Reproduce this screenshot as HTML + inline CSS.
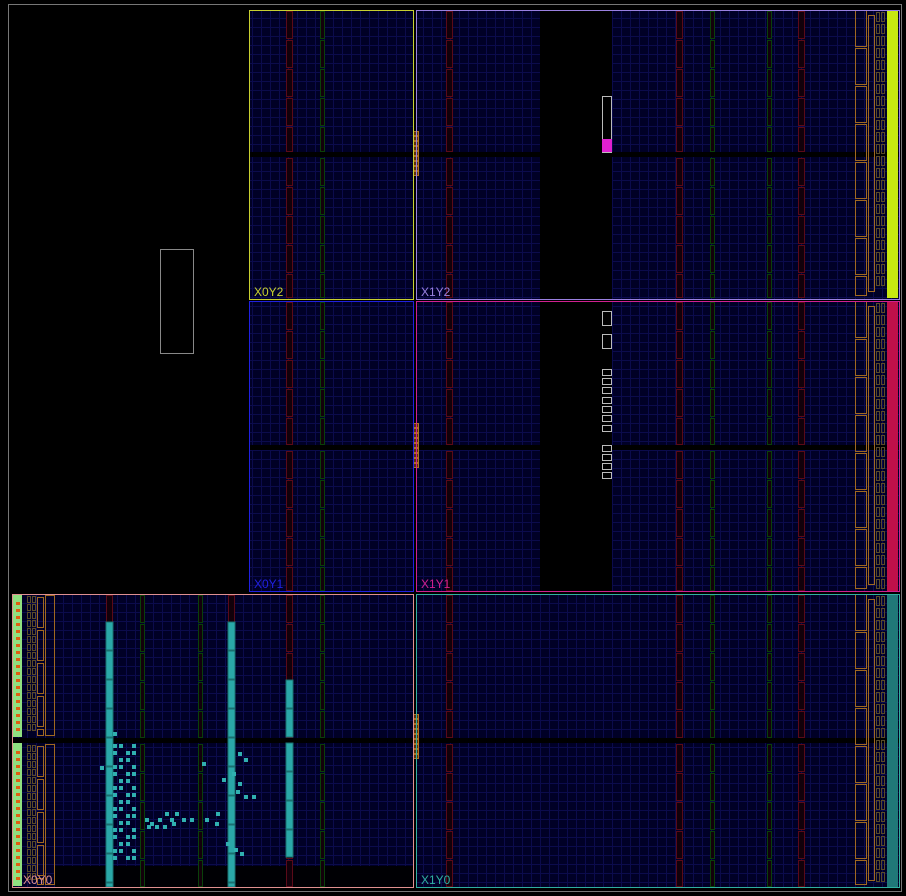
<!DOCTYPE html>
<html><head><meta charset="utf-8"><style>
html,body{margin:0;padding:0;background:#000;width:906px;height:896px;overflow:hidden}
svg{display:block}
text{font-family:"Liberation Sans",sans-serif;font-size:12px}
</style></head><body>
<svg id="dev" width="906" height="896" viewBox="0 0 906 896" xmlns="http://www.w3.org/2000/svg">
<defs>
<pattern id="fab" width="9" height="9" patternUnits="userSpaceOnUse">
<rect width="9" height="9" fill="#000026"/>
<path d="M0 0.5H9M0.5 0V9" stroke="#0b0b4c" stroke-width="1"/>
</pattern>
</defs>
<rect x="8.5" y="4.5" width="893" height="887" fill="#000" stroke="#777" stroke-width="1"/>
<g id="fabric"></g>
<g id="cols"></g>
<g id="io"></g>
<g id="cells"></g>
<g id="regions"></g>
<rect x="160.5" y="249.5" width="33" height="104" fill="none" stroke="#888"/>
<rect x="602.5" y="96.5" width="9" height="56" fill="#000" stroke="#bbb"/>
<rect x="602" y="139" width="10" height="13" fill="#e020d0"/>
<g id="whiteboxes"></g>
</svg>
<script>
const NS='http://www.w3.org/2000/svg';
function R(p,x,y,w,h,fill,stroke,name){const r=document.createElementNS(NS,'rect');r.setAttribute('x',x);r.setAttribute('y',y);r.setAttribute('width',w);r.setAttribute('height',h);r.setAttribute('fill',fill||'none');if(stroke){r.setAttribute('stroke',stroke);}


p.appendChild(r);return r;}
const $=id=>document.getElementById(id);

const fabricAreas=[[249,10,164,289],[416,10,483,289],[249,301,164,290],[416,301,483,290],[12,594,401,293],[416,594,483,293]];
fabricAreas.forEach(a=>R($('fabric'),a[0],a[1],a[2],a[3],'url(#fab)',null,'fabric-area'));
const hBands=[152,445,738];
hBands.forEach(y=>R($('fabric'),249,y,651,5,'#000',null,'clock-row-band'));
R($('fabric'),12,738,401,5,'#000',null,'clock-row-band');
R($('fabric'),540,10,72,581,'#000',null,'empty-column-band');
R($('fabric'),55,866,360,21,'#000004',null,'bottom-band');

const bramCols=[286,446,676,798];
const dspCols=[320,710,767];
const rows=[[10,152],[157,298],[301,445],[450,591],[594,738],[743,887]];
function col(x,w,color,y0,y1,name){
  for(let y=y0+1;y<y1-1;y+=29){const h=Math.min(27,y1-1-y);R($('cols'),x+.5,y+.5,w,h,'#12000a',color,name);}
}
rows.forEach(r=>{
  bramCols.forEach(x=>col(x,6,'#5a0a18',r[0],r[1],'bram-column'));
  dspCols.forEach(x=>col(x,4,'#0a400a',r[0],r[1],'dsp-column'));
});
const x0Bram=[106,228];const x0Dsp=[140,198];
[[594,738],[743,887]].forEach(r=>{
  x0Bram.forEach(x=>col(x,6,'#5a0a18',r[0],r[1],'bram-column'));
  x0Dsp.forEach(x=>col(x,4,'#0a400a',r[0],r[1],'dsp-column'));
});
const usedBram=[[106,622,887],[228,622,887],[286,680,738],[286,743,857]];
usedBram.forEach(u=>{for(let y=u[1];y<u[2];y+=29){R($('cells'),u[0],y,7,Math.min(28,u[2]-y),'#2aa8a8','#1a7070','used-bram');}});

const ioColors=[['#c8e810',10,298],['#c0104a',301,591],['#207878',594,887]];
ioColors.forEach(c=>{R($('io'),887,c[1],11,c[2]-c[1],c[0],null,'io-bank-bar');
  for(let y=c[1]+2;y<c[2]-10;y+=12){R($('io'),876.5,y+.5,3,9,'none','#5a4a28','io-site');R($('io'),881.5,y+.5,3,9,'none','#5a4a28','io-site');}
  for(let y=c[1];y<c[2]-10;y+=38){R($('io'),855.5,y+.5,11,Math.min(36,c[2]-y-3),'none','#a06820','io-tile');}
  R($('io'),868.5,c[1]+5.5,6,c[2]-c[1]-12,'none','#a06820','io-column');
});
[[594,738],[743,887]].forEach(r=>{
  R($('io'),13,r[0],9,r[1]-r[0]-1,'#90e080',null,'io-bank-bar');
  for(let y=r[0]+8;y<r[1]-8;y+=7){R($('io'),16,y,4,3,'#e06010',null,'io-pin');}
  for(let y=r[0]+2;y<r[1]-8;y+=8){R($('io'),27.5,y+.5,3,6,'none','#5a4a28','io-site');R($('io'),32.5,y+.5,3,6,'none','#5a4a28','io-site');}
  for(let y=r[0];y<r[1]-10;y+=33){R($('io'),37.5,y+3.5,6,Math.min(30,r[1]-y-6),'none','#a06820','io-tile');}
  R($('io'),45.5,r[0]+1.5,9,r[1]-r[0]-4,'none','#a06820','io-column');
});
[[131,173],[423,467],[714,758]].forEach(s=>{for(let y=s[0];y<s[1];y+=5){R($('io'),413.5,y+.5,5,4,'#5a3008','#b07020','clock-buffer');}});

const cellXs=[113,119,126,132];
const cellYs=[744,751,758,765,772,779,786,793,800,807,814,821,828,835,842,849,856];
cellYs.forEach((y,i)=>cellXs.forEach((x,j)=>{if((i+j)%3!==2)R($('cells'),x,y,4,4,'#30b0b0',null,'logic-cell');}));
const scatter=[[145,818],[150,822],[158,818],[165,812],[170,818],[175,812],[182,818],[190,818],[147,825],[155,825],[163,825],[172,822],[100,766],[202,762],[216,812],[222,778],[232,772],[238,782],[244,795],[252,795],[238,752],[244,758],[236,790],[226,842],[234,848],[240,852],[205,818],[215,822],[113,732]];
scatter.forEach(p=>R($('cells'),p[0],p[1],4,4,'#30b0b0',null,'logic-cell'));

const wb=[[602,311,9,14],[602,334,9,14]];
const smallY=[369,378,387,397,406,415,425,445,454,463,472];
wb.forEach(b=>R($('whiteboxes'),b[0]+.5,b[1]+.5,b[2],b[3],'none','#bbb','highlight-site'));
smallY.forEach(y=>R($('whiteboxes'),602.5,y+.5,9,6,'none','#bbb','highlight-site'));

const regions=[['X0Y2',249,10,164,289,'#c8d030'],['X1Y2',416,10,483,289,'#9a80e0'],['X0Y1',249,301,164,290,'#2020e0'],['X1Y1',416,301,483,290,'#d02090'],['X0Y0',12,594,401,293,'#e09090'],['X1Y0',416,594,483,293,'#30b0a0']];
regions.forEach(g=>{
  R($('regions'),g[1]+.5,g[2]+.5,g[3],g[4],'none',g[5],'clock-region-'+g[0].toLowerCase());
  const t=document.createElementNS(NS,'text');t.setAttribute('x',g[0]==='X0Y0'?23:g[1]+5);t.setAttribute('y',g[2]+g[4]-3);t.setAttribute('fill',g[5]);t.textContent=g[0];
  
  
  $('regions').appendChild(t);
});
</script>
</body></html>
